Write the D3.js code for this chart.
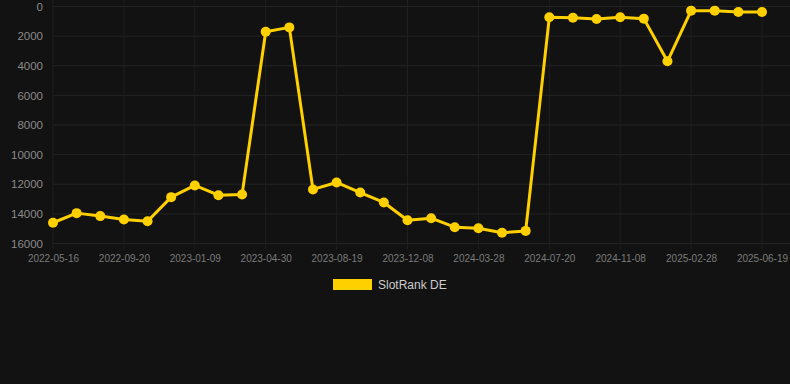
<!DOCTYPE html>
<html><head><meta charset="utf-8">
<script src="https://cdn.jsdelivr.net/npm/d3@7"></script>
<style>html,body{margin:0;padding:0;background:#121212;}svg{display:block;font-family:Arial,"Liberation Sans",sans-serif;}</style>
</head><body><svg id="c" width="790" height="384"></svg>
<script>
const dates = ["2022-05-16","2022-06-27","2022-08-08","2022-09-20","2022-10-27","2022-12-03","2023-01-09","2023-02-15","2023-03-24","2023-04-30","2023-06-06","2023-07-13","2023-08-19","2023-09-25","2023-11-01","2023-12-08","2024-01-14","2024-02-20","2024-03-28","2024-05-05","2024-06-12","2024-07-20","2024-08-26","2024-10-02","2024-11-08","2024-12-15","2025-01-21","2025-02-28","2025-04-06","2025-05-13","2025-06-19"];
const ranks = [14600,13950,14150,14380,14500,12870,12080,12740,12690,1700,1410,12350,11880,12560,13230,14430,14290,14900,14970,15280,15150,730,760,845,730,820,3700,280,280,370,370];
const yTicks = [0,2000,4000,6000,8000,10000,12000,14000,16000];
const seriesName = "SlotRank DE";
const color = "#ffd000";

(function(){
const svg = d3.select("#c");
const pLeft = 53, pRight = 762, pTop = 6.5, pBottom = 243.5;
const x = d3.scalePoint().domain(dates).range([pLeft, pRight]);
const y = d3.scaleLinear().domain([0,16000]).range([pTop, pBottom]);

svg.append("g").selectAll("line").data(yTicks).join("line")
  .attr("x1", pLeft).attr("x2", 790).attr("y1", d=>y(d)).attr("y2", d=>y(d))
  .attr("stroke", "#242424").attr("stroke-width", 1);
const shown = dates.filter((d,i)=>i%3===0);
svg.append("g").selectAll("line").data(shown).join("line")
  .attr("x1", d=>x(d)).attr("x2", d=>x(d)).attr("y1", 0).attr("y2", pBottom+6)
  .attr("stroke", "#1f1f1f").attr("stroke-width", 1);

const yAxis = d3.axisLeft(y).tickValues(yTicks).tickSize(0).tickPadding(0).tickFormat(d3.format("d"));
const yg = svg.append("g").attr("transform", `translate(${pLeft-10},0)`).call(yAxis);
yg.select(".domain").remove();
yg.selectAll("text").attr("fill", "#8a8a8a").attr("font-size", 11.5).attr("font-family", "Arial, 'Liberation Sans', sans-serif");

const xAxis = d3.axisBottom(x).tickValues(shown).tickSize(0).tickPadding(0);
const xg = svg.append("g").attr("transform", `translate(0,${pBottom+11})`).call(xAxis);
xg.select(".domain").remove();
xg.selectAll("text").attr("fill", "#7a7a7a").attr("font-size", 10).attr("font-family", "Arial, 'Liberation Sans', sans-serif");

const line = d3.line().x((d,i)=>x(dates[i])).y(d=>y(d));
svg.append("path").datum(ranks).attr("d", line).attr("fill","none")
  .attr("stroke", color).attr("stroke-width", 3).attr("stroke-linejoin","round");
svg.append("g").selectAll("circle").data(ranks).join("circle")
  .attr("cx", (d,i)=>x(dates[i])).attr("cy", d=>y(d)).attr("r", 5).attr("fill", color);

svg.append("rect").attr("x", 333).attr("y", 279).attr("width", 39).attr("height", 11).attr("fill", color);
svg.append("text").attr("x", 378).attr("y", 289).attr("fill", "#cccccc").attr("font-size", 12)
  .text(seriesName);
})();
</script></body></html>
